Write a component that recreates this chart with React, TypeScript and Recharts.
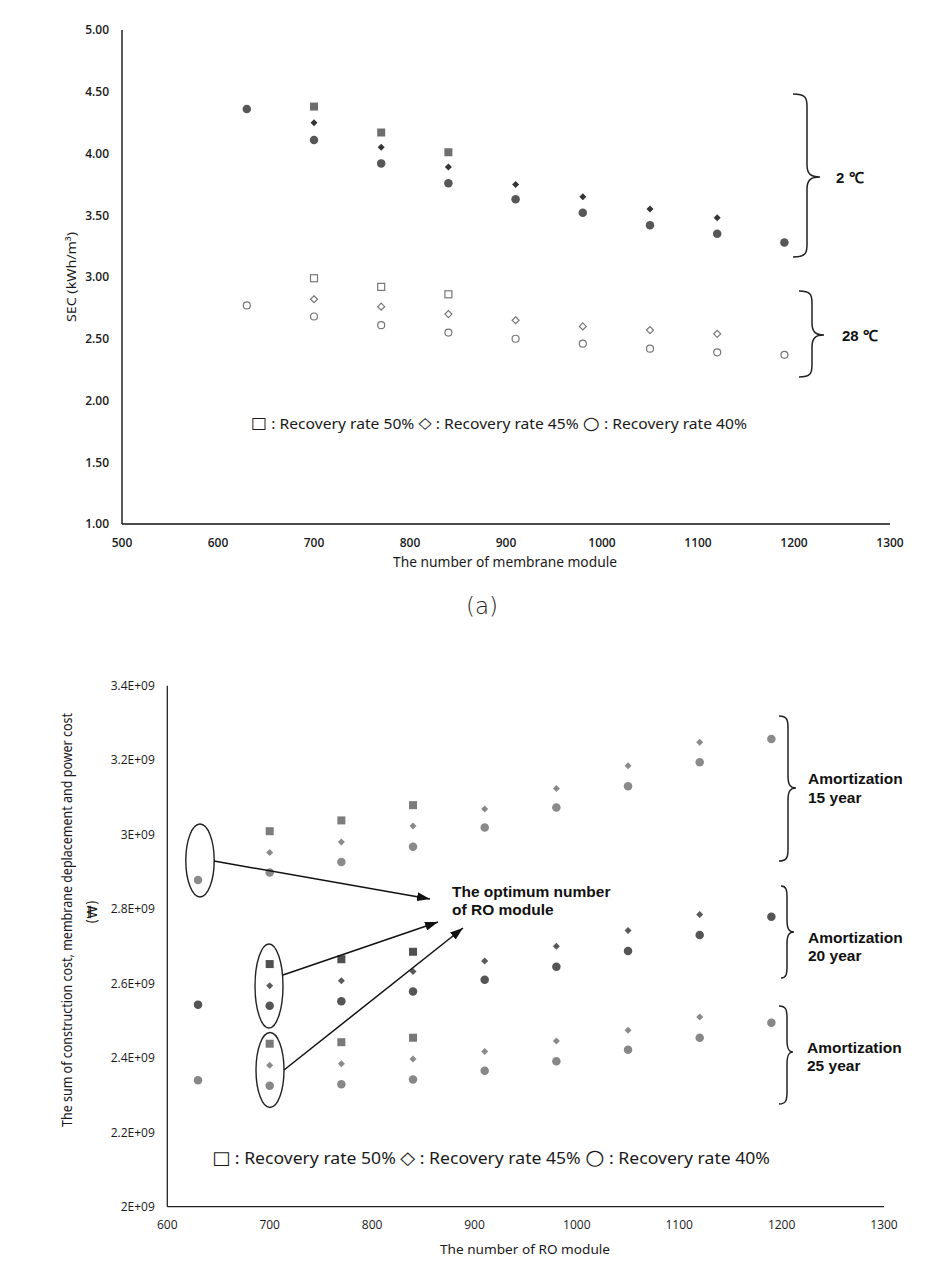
import React from 'react';
import { ScatterChart, Scatter, XAxis, YAxis } from 'recharts';

// ---------- data: chart (a) SEC ----------
const modules50 = [700, 770, 840];
const modules45 = [700, 770, 840, 910, 980, 1050, 1120];
const modules40 = [630, 700, 770, 840, 910, 980, 1050, 1120, 1190];

const xTicksA = [500, 600, 700, 800, 900, 1000, 1100, 1200, 1300];
const yTicksA = [1, 1.5, 2, 2.5, 3, 3.5, 4, 4.5, 5];

const secCold50 = [4.38, 4.17, 4.01];
const secCold45 = [4.25, 4.05, 3.89, 3.75, 3.65, 3.55, 3.48];
const secCold40 = [4.36, 4.11, 3.92, 3.76, 3.63, 3.52, 3.42, 3.35, 3.28];
const secWarm50 = [2.99, 2.92, 2.86];
const secWarm45 = [2.82, 2.76, 2.70, 2.65, 2.60, 2.57, 2.54];
const secWarm40 = [2.77, 2.68, 2.61, 2.55, 2.50, 2.46, 2.42, 2.39, 2.37];

// ---------- data: chart (b) cost (units of 1E+09) ----------
const xTicksB = [600, 700, 800, 900, 1000, 1100, 1200, 1300];
const yTicksB = [2.0, 2.2, 2.4, 2.6, 2.8, 3.0, 3.2, 3.4];

const cost15y50 = [3.009, 3.038, 3.079];
const cost15y45 = [2.952, 2.980, 3.023, 3.069, 3.124, 3.185, 3.248];
const cost15y40 = [2.878, 2.898, 2.926, 2.967, 3.019, 3.073, 3.130, 3.194, 3.257];
const cost20y50 = [2.652, 2.665, 2.685];
const cost20y45 = [2.594, 2.607, 2.632, 2.660, 2.700, 2.742, 2.785];
const cost20y40 = [2.543, 2.540, 2.552, 2.578, 2.610, 2.645, 2.687, 2.730, 2.779];
const cost25y50 = [2.438, 2.442, 2.454];
const cost25y45 = [2.380, 2.384, 2.397, 2.417, 2.445, 2.474, 2.510];
const cost25y40 = [2.340, 2.325, 2.329, 2.342, 2.365, 2.391, 2.422, 2.454, 2.494];

const legendItems = ['Recovery rate 50%', 'Recovery rate 45%', 'Recovery rate 40%'];
const legendGlyphs = ['□', '◇', '○'];

const GIGA = 1e9;
const zip = (xs: number[], ys: number[], k = 1) => ys.map((y, i) => ({ x: xs[i], y: y * k }));

// ---------- marker shapes ----------
type Kind = 'square' | 'diamond' | 'circle';
const marker = (kind: Kind, fill: string, stroke: string, s: number) => (props: any) => {
  const { cx, cy } = props;
  if (cx == null || cy == null) return <g />;
  const sw = stroke === 'none' ? 0 : 1.2;
  if (kind === 'square')
    return <rect x={cx - s / 2} y={cy - s / 2} width={s} height={s} fill={fill} stroke={stroke} strokeWidth={sw} />;
  if (kind === 'diamond') {
    const w = s / 2, h = s / 2;
    return <path d={`M${cx},${cy - h}L${cx + w},${cy}L${cx},${cy + h}L${cx - w},${cy}Z`} fill={fill} stroke={stroke} strokeWidth={sw} />;
  }
  return <circle cx={cx} cy={cy} r={s / 2} fill={fill} stroke={stroke} strokeWidth={sw} />;
};

const tickFontA = { fontSize: 12, fill: '#1a1a1a', fontFamily: 'Open Sans', fontWeight: 600 };
const tickFontB = { fontSize: 12, fill: '#1a1a1a', fontFamily: 'Open Sans' };
const titleFont = { fontFamily: 'Noto Sans', fill: '#1a1a1a' };
const boldFont = { fontFamily: 'Liberation Sans', fontWeight: 700, fill: '#111' };

const XTitleA = () => (
  <text x={505} y={562} textAnchor="middle" dominantBaseline="central" fontSize={13.5} textLength={224} lengthAdjust="spacingAndGlyphs" {...titleFont}>
    The number of membrane module
  </text>
);
const YTitleA = () => (
  <text x={71} y={277} transform="rotate(-90 71 277)" textAnchor="middle" dominantBaseline="central" fontSize={12.5} textLength={90} lengthAdjust="spacingAndGlyphs" {...titleFont}>
    SEC (kWh/m³)
  </text>
);
const XTitleB = () => (
  <text x={525} y={1249 - 640} textAnchor="middle" dominantBaseline="central" fontSize={13} textLength={170} lengthAdjust="spacingAndGlyphs" {...titleFont}>
    The number of RO module
  </text>
);
const YTitleB = () => (
  <g>
    <text x={67} y={920 - 640} transform={`rotate(-90 67 ${920 - 640})`} textAnchor="middle" dominantBaseline="central" fontSize={13.5} textLength={414} lengthAdjust="spacingAndGlyphs" {...titleFont}>
      The sum of construction cost, membrane deplacement and power cost
    </text>
    <text x={92} y={912 - 640} transform={`rotate(-90 92 ${912 - 640})`} textAnchor="middle" dominantBaseline="central" fontSize={13.5} fontFamily="DejaVu Sans" fill="#1a1a1a">
      (₩)
    </text>
  </g>
);

const Legend = ({ x, y, fs, len }: { x: number; y: number; fs: number; len: number }) => (
  <text x={x} y={y} dominantBaseline="central" fontSize={fs} textLength={len} lengthAdjust="spacingAndGlyphs" {...titleFont}>
    {legendItems.map((t, i) => (
      <React.Fragment key={i}>
        <tspan fontFamily="DejaVu Sans" fontSize={fs * (i === 2 ? 1.25 : 1.1)}>{legendGlyphs[i]}</tspan>
        <tspan>{` : ${t}${i < legendItems.length - 1 ? ' ' : ''}`}</tspan>
      </React.Fragment>
    ))}
  </text>
);

const bracePath = (x0: number, x1: number, xt: number, y0: number, ym: number, y1: number) => {
  const r = 12;
  return `M${x0},${y0} C${x0 + (x1 - x0) * 0.9},${y0} ${x1},${y0 + 4} ${x1},${y0 + r}
    L${x1},${ym - r} C${x1},${ym - 3} ${x1 + (xt - x1) * 0.3},${ym} ${xt},${ym}
    C${x1 + (xt - x1) * 0.3},${ym} ${x1},${ym + 3} ${x1},${ym + r}
    L${x1},${y1 - r} C${x1},${y1 - 4} ${x0 + (x1 - x0) * 0.9},${y1} ${x0},${y1}`;
};

export default function App() {
  const axisLine = { stroke: '#111', strokeWidth: 1.4 };
  return (
    <div style={{ position: 'absolute', left: 0, top: 0, width: 928, height: 1264, background: '#fff' }}>
      <div style={{ position: 'absolute', left: 0, top: 0 }}>
        <ScatterChart width={928} height={600} margin={{ top: 30, right: 38, bottom: 46, left: 62 }}>
          <XAxis type="number" dataKey="x" domain={[500, 1300]} ticks={xTicksA} interval={0} tickLine={false} tickSize={0} tickMargin={14} height={30} axisLine={axisLine} tick={tickFontA} label={<XTitleA />} />
          <YAxis type="number" dataKey="y" domain={[1, 5]} ticks={yTicksA} interval={0} tickLine={false} tickSize={0} tickMargin={13} width={60} axisLine={axisLine} tick={tickFontA} tickFormatter={(v: number) => v.toFixed(2)} label={<YTitleA />} />
          <Scatter data={zip(modules50, secCold50)} shape={marker('square', '#6e6e6e', 'none', 8)} isAnimationActive={false} />
          <Scatter data={zip(modules45, secCold45)} shape={marker('diamond', '#353535', 'none', 7)} isAnimationActive={false} />
          <Scatter data={zip(modules40, secCold40)} shape={marker('circle', '#575757', 'none', 8.5)} isAnimationActive={false} />
          <Scatter data={zip(modules50, secWarm50)} shape={marker('square', '#fff', '#777', 7)} isAnimationActive={false} />
          <Scatter data={zip(modules45, secWarm45)} shape={marker('diamond', '#fff', '#777', 7)} isAnimationActive={false} />
          <Scatter data={zip(modules40, secWarm40)} shape={marker('circle', '#fff', '#777', 7)} isAnimationActive={false} />
        </ScatterChart>
      </div>
      <div style={{ position: 'absolute', left: 0, top: 640 }}>
        <ScatterChart width={928} height={624} margin={{ top: 45.7, right: 44, bottom: 27.3, left: 87.3 }}>
          <XAxis type="number" dataKey="x" domain={[600, 1300]} ticks={xTicksB} interval={0} tickLine={false} tickSize={0} tickMargin={14} height={30} axisLine={{ stroke: '#222', strokeWidth: 1.3 }} tick={tickFontB} label={<XTitleB />} />
          <YAxis type="number" dataKey="y" domain={[2 * GIGA, 3.4 * GIGA]} ticks={yTicksB.map((v) => v * GIGA)} interval={0} tickLine={false} tickSize={0} tickMargin={12.5} width={80} axisLine={{ stroke: '#222', strokeWidth: 1.3 }} tick={tickFontB} tickFormatter={(v: number) => `${+(v / GIGA).toFixed(1)}E+09`} label={<YTitleB />} />
          <Scatter data={zip(modules50, cost15y50, GIGA)} shape={marker('square', '#7c7c7c', 'none', 8)} isAnimationActive={false} />
          <Scatter data={zip(modules45, cost15y45, GIGA)} shape={marker('diamond', '#8a8a8a', 'none', 7)} isAnimationActive={false} />
          <Scatter data={zip(modules40, cost15y40, GIGA)} shape={marker('circle', '#8a8a8a', 'none', 8.5)} isAnimationActive={false} />
          <Scatter data={zip(modules50, cost20y50, GIGA)} shape={marker('square', '#505050', 'none', 8)} isAnimationActive={false} />
          <Scatter data={zip(modules45, cost20y45, GIGA)} shape={marker('diamond', '#5a5a5a', 'none', 7)} isAnimationActive={false} />
          <Scatter data={zip(modules40, cost20y40, GIGA)} shape={marker('circle', '#555555', 'none', 8.5)} isAnimationActive={false} />
          <Scatter data={zip(modules50, cost25y50, GIGA)} shape={marker('square', '#787878', 'none', 8)} isAnimationActive={false} />
          <Scatter data={zip(modules45, cost25y45, GIGA)} shape={marker('diamond', '#8a8a8a', 'none', 7)} isAnimationActive={false} />
          <Scatter data={zip(modules40, cost25y40, GIGA)} shape={marker('circle', '#878787', 'none', 8.5)} isAnimationActive={false} />
        </ScatterChart>
      </div>
      <svg width={928} height={1264} style={{ position: 'absolute', left: 0, top: 0, pointerEvents: 'none' }}>
        <defs>
          <marker id="arr" viewBox="0 0 13 9" refX={13} refY={4.5} markerWidth={13} markerHeight={9} markerUnits="userSpaceOnUse" orient="auto">
            <path d="M0,0L13,4.5L0,9Z" fill="#111" />
          </marker>
        </defs>
        {/* chart (a) annotations */}
        <path d={bracePath(793, 807, 820, 94, 177, 257)} fill="none" stroke="#222" strokeWidth={1.5} />
        <path d={bracePath(799, 812, 824, 291, 335, 377)} fill="none" stroke="#222" strokeWidth={1.5} />
        <text x={836} y={177} dominantBaseline="central" fontSize={15} {...boldFont}>2 ℃</text>
        <text x={842} y={335} dominantBaseline="central" fontSize={15} {...boldFont}>28 ℃</text>
        <Legend x={251} y={423} fs={14} len={496} />
        <text x={482} y={606} textAnchor="middle" dominantBaseline="central" fontSize={23} fontFamily="DejaVu Sans" fontWeight={300} fill="#222">(a)</text>

        {/* chart (b) annotations */}
        <path d={bracePath(779, 788, 796, 716, 788, 861)} fill="none" stroke="#222" strokeWidth={1.5} />
        <path d={bracePath(781, 787, 794, 886, 932, 978)} fill="none" stroke="#222" strokeWidth={1.5} />
        <path d={bracePath(779, 787, 793, 1006, 1052, 1104)} fill="none" stroke="#222" strokeWidth={1.5} />
        <text x={808} y={778} dominantBaseline="central" fontSize={15.5} {...boldFont}>Amortization</text>
        <text x={808} y={797} dominantBaseline="central" fontSize={15.5} {...boldFont}>15 year</text>
        <text x={808} y={937} dominantBaseline="central" fontSize={15.5} {...boldFont}>Amortization</text>
        <text x={808} y={955} dominantBaseline="central" fontSize={15.5} {...boldFont}>20 year</text>
        <text x={807} y={1047} dominantBaseline="central" fontSize={15.5} {...boldFont}>Amortization</text>
        <text x={807} y={1065} dominantBaseline="central" fontSize={15.5} {...boldFont}>25 year</text>

        <ellipse cx={200} cy={860.5} rx={14.2} ry={36.5} fill="none" stroke="#222" strokeWidth={1.4} />
        <ellipse cx={269} cy={986} rx={14} ry={42} fill="none" stroke="#222" strokeWidth={1.4} />
        <ellipse cx={270} cy={1070} rx={14} ry={37.5} fill="none" stroke="#222" strokeWidth={1.4} />
        <line x1={214} y1={861} x2={430} y2={899} stroke="#111" strokeWidth={1.5} markerEnd="url(#arr)" />
        <line x1={283} y1={975} x2={438} y2={922} stroke="#111" strokeWidth={1.5} markerEnd="url(#arr)" />
        <line x1={284} y1={1070} x2={463} y2={928} stroke="#111" strokeWidth={1.5} markerEnd="url(#arr)" />
        <text x={452} y={891} dominantBaseline="central" fontSize={15.5} {...boldFont}>The optimum number</text>
        <text x={452} y={909} dominantBaseline="central" fontSize={15.5} {...boldFont}>of RO module</text>

        <Legend x={212} y={1157} fs={16.5} len={558} />
      </svg>
    </div>
  );
}
